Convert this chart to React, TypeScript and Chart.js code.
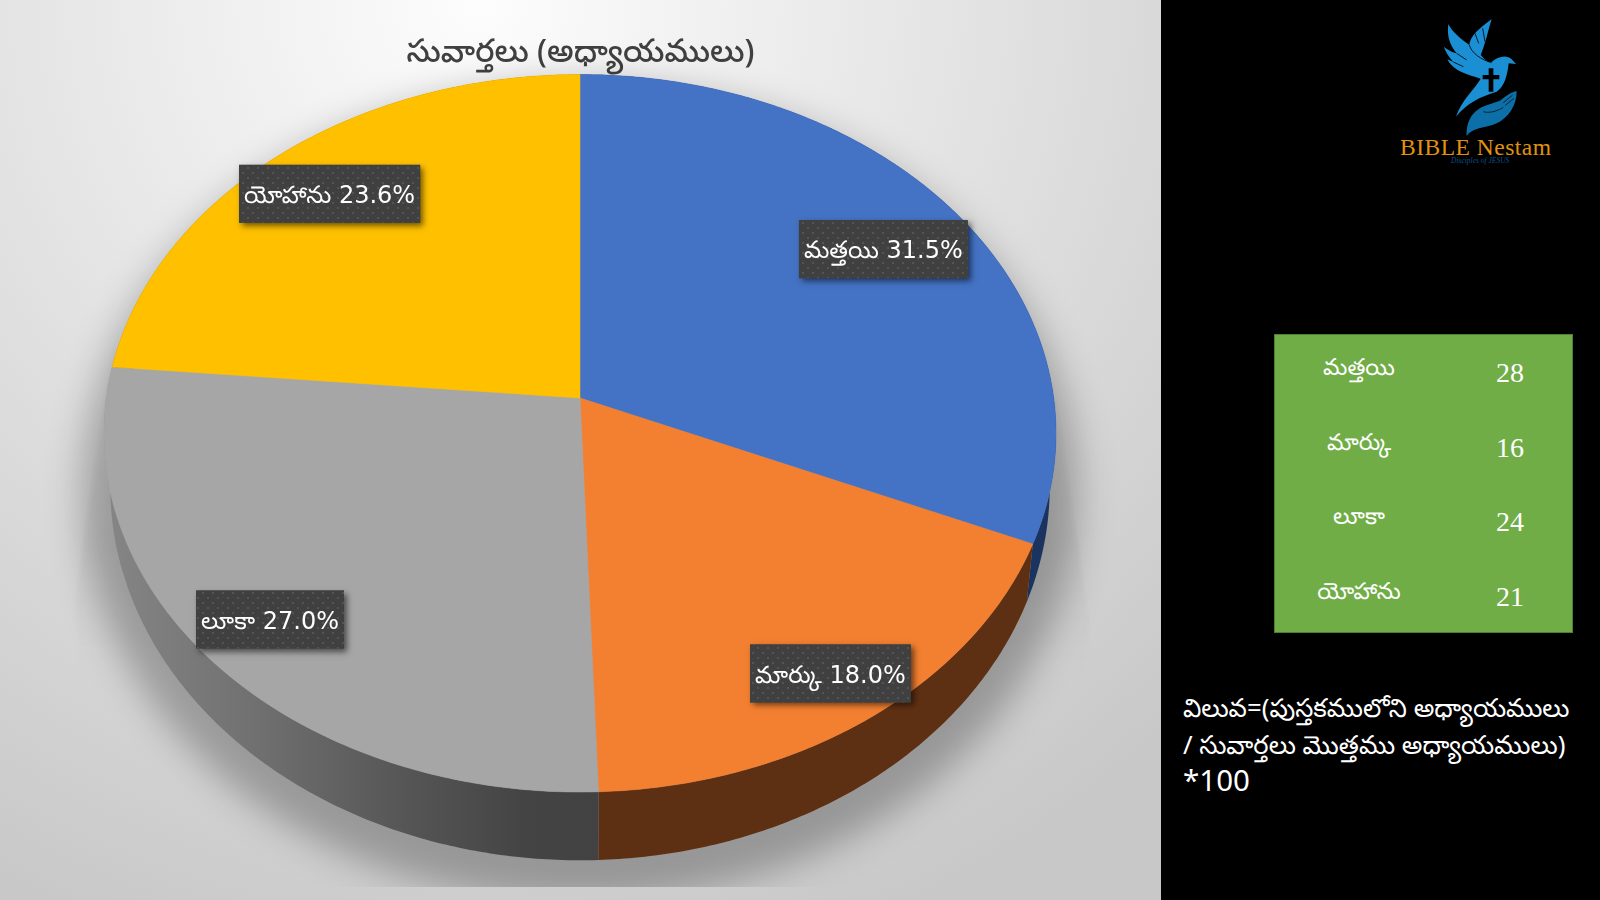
import React, { useEffect, useRef } from "react";
import { Chart, registerables } from "chart.js";

Chart.register(...registerables);

const categories = ["మత్తయి", "మార్కు", "లూకా", "యోహాను"];
const chapters = [28, 16, 24, 21];
const faceColors = ["#4472c4", "#f38031", "#a6a6a6", "#ffc000"];
const wallColors = ["#1a345f", "#5e3013", "#555555", "#806000"];
const labelRadii = [0.8, 0.87, 0.85, 0.83];
const titleText = "సువార్తలు (అధ్యాయములు)";
const noteLines = ["విలువ=(పుస్తకములోని అధ్యాయములు", "/ సువార్తలు మొత్తము అధ్యాయములు)", "*100"];
const logoName = "BIBLE Nestam";
const logoTag = "Disciples of JESUS";

const FONT = '"Noto Sans", "Noto Sans Telugu", sans-serif';
const LABEL_FONT = '"DejaVu Sans", "Noto Sans Telugu", sans-serif';
const PANEL = 1161;

// perspective model of the disc: screen = origin + (a*u, -b*v) / (1 + k*v)
const K = 0.0983;
const TOP = { cx: 580, cy: 398, a: 473.7, b: 355.3 };
const BASE = { cx: 580, cy: 449.5, a: 467.5, b: 370.4 };

type Disc = typeof TOP;
const project = (d: Disc, theta: number, r = 1) => {
  const u = Math.sin(theta) * r;
  const v = Math.cos(theta) * r;
  const w = 1 + K * v;
  return { x: d.cx + (d.a * u) / w, y: d.cy - (d.b * v) / w };
};

const arcPoints = (d: Disc, from: number, to: number) => {
  const n = Math.max(2, Math.ceil(Math.abs(to - from) / 0.01));
  const pts = [];
  for (let i = 0; i <= n; i++) pts.push(project(d, from + ((to - from) * i) / n));
  return pts;
};

const makeDots = (ctx: CanvasRenderingContext2D) => {
  const c = document.createElement("canvas");
  c.width = 10;
  c.height = 10;
  const g = c.getContext("2d")!;
  g.fillStyle = "#404040";
  g.fillRect(0, 0, 10, 10);
  g.fillStyle = "#545454";
  g.fillRect(2, 2, 2, 2);
  g.fillRect(7, 7, 2, 2);
  return ctx.createPattern(c, "repeat")!;
};

const pie3d = {
  id: "pie3d",
  beforeDatasetDraw(chart: any) {
    const ctx: CanvasRenderingContext2D = chart.ctx;
    const arcs = chart.getDatasetMeta(0).data;
    const total = chapters.reduce((s, v) => s + v, 0);
    ctx.save();

    // floor shadow
    ctx.save();
    ctx.beginPath();
    ctx.rect(0, 0, PANEL, 887);
    ctx.clip();
    ctx.filter = "blur(2px)";
    for (const side of [
      [[112, 345], [74, 605], [80, 680], [300, 680]],
      [[1056, 395], [1090, 625], [1082, 700], [860, 700]],
    ]) {
      const g = ctx.createLinearGradient(0, 345, 0, 680);
      g.addColorStop(0, "rgba(0,0,0,0.015)");
      g.addColorStop(0.6, "rgba(0,0,0,0.04)");
      g.addColorStop(1, "rgba(0,0,0,0)");
      ctx.fillStyle = g;
      ctx.beginPath();
      side.forEach(([x, y], i) => (i ? ctx.lineTo(x, y) : ctx.moveTo(x, y)));
      ctx.closePath();
      ctx.fill();
    }
    ctx.filter = "blur(18px)";
    ctx.fillStyle = "rgba(0,0,0,0.27)";
    ctx.beginPath();
    ctx.ellipse(580, 492, 498, 410, 0, 0, Math.PI * 2);
    ctx.fill();
    ctx.restore();

    // side walls
    arcs.forEach((arc: any, i: number) => {
      const from = arc.startAngle + Math.PI / 2;
      const to = arc.endAngle + Math.PI / 2;
      const top = arcPoints(TOP, from, to);
      const base = arcPoints(BASE, to, from);
      ctx.beginPath();
      [...top, ...base].forEach((p, j) => (j ? ctx.lineTo(p.x, p.y) : ctx.moveTo(p.x, p.y)));
      ctx.closePath();
      if (i === 2) {
        const g = ctx.createLinearGradient(110, 0, 598, 0);
        g.addColorStop(0, "#858585");
        g.addColorStop(0.3, "#707070");
        g.addColorStop(0.6, "#565656");
        g.addColorStop(0.85, "#444444");
        g.addColorStop(1, "#424242");
        ctx.fillStyle = g;
      } else {
        ctx.fillStyle = wallColors[i];
      }
      ctx.fill();
    });

    // top faces
    arcs.forEach((arc: any, i: number) => {
      const from = arc.startAngle + Math.PI / 2;
      const to = arc.endAngle + Math.PI / 2;
      ctx.beginPath();
      ctx.moveTo(TOP.cx, TOP.cy);
      arcPoints(TOP, from, to).forEach((p) => ctx.lineTo(p.x, p.y));
      ctx.closePath();
      ctx.fillStyle = faceColors[i];
      ctx.fill();
      ctx.strokeStyle = faceColors[i];
      ctx.lineWidth = 0.5;
      ctx.stroke();
    });

    // data labels
    const dots = makeDots(ctx);
    ctx.font = `24px ${LABEL_FONT}`;
    ctx.textAlign = "left";
    ctx.textBaseline = "middle";
    arcs.forEach((arc: any, i: number) => {
      const mid = (arc.startAngle + arc.endAngle) / 2 + Math.PI / 2;
      const c = project(TOP, mid, labelRadii[i]);
      const text = `${categories[i]} ${((chapters[i] / total) * 100).toFixed(1)}%`;
      const w = ctx.measureText(text).width + 10;
      const h = 58;
      ctx.save();
      ctx.shadowColor = "rgba(0,0,0,0.55)";
      ctx.shadowBlur = 6;
      ctx.shadowOffsetX = 3;
      ctx.shadowOffsetY = 3;
      ctx.fillStyle = "#404040";
      ctx.fillRect(c.x - w / 2, c.y - h / 2 + 1, w, h);
      ctx.restore();
      ctx.fillStyle = dots;
      ctx.fillRect(c.x - w / 2, c.y - h / 2 + 1, w, h);
      ctx.fillStyle = "#ffffff";
      ctx.fillText(text, c.x - w / 2 + 5, c.y + 4);
    });

    ctx.restore();
    return false;
  },
};

const Logo = () => (
  <svg
    viewBox="0 0 1080 600"
    width={360}
    height={200}
    style={{ position: "absolute", left: 1240 - PANEL, top: 0 }}
  >
    <path
      fill="#1a8fd3"
      d="M625 72 C635 95 665 118 688 135 C690 108 718 85 755 57 C745 90 735 135 722 165 C735 180 745 188 755 186 C772 170 800 162 815 178 L828 192 L806 190 C802 225 795 258 770 275 C720 290 680 310 648 350 C665 300 700 272 722 236 C690 226 640 215 622 178 L640 186 C625 168 615 152 612 140 C625 152 640 157 650 160 C630 135 620 110 625 72 Z"
    />
    <path
      fill="none"
      stroke="#000"
      strokeWidth="2.5"
      d="M688 135 C695 160 725 180 755 188 M716 130 L705 100 M735 125 L728 85 M650 160 L680 180 M640 186 L670 200"
    />
    <path fill="#000" d="M728 225 H746 V205 H760 V225 H778 V238 H760 V275 H746 V238 H728 Z" />
    <path
      fill="#0d6fa8"
      d="M680 408 C678 368 695 330 740 316 L780 302 C800 286 815 276 830 273 C830 320 802 355 770 370 C735 385 695 383 680 408 Z"
    />
    <path fill="none" stroke="#000" strokeWidth="2" d="M790 308 L818 285 M796 316 L822 295 M730 335 C745 340 770 335 790 322" />
  </svg>
);

export default function App() {
  const ref = useRef<HTMLCanvasElement>(null);

  useEffect(() => {
    const chart = new Chart(ref.current!, {
      type: "pie",
      data: {
        labels: categories,
        datasets: [{ data: chapters, backgroundColor: faceColors, borderWidth: 0 }],
      },
      options: {
        responsive: false,
        animation: false,
        layout: { padding: { top: 34 } },
        plugins: {
          legend: { display: false },
          tooltip: { enabled: false },
          title: {
            display: true,
            text: titleText,
            color: "#404040",
            font: { family: FONT, size: 32, weight: "500" },
            padding: { top: 0, bottom: 0 },
          },
        },
      } as any,
      plugins: [pie3d as any],
    });
    return () => chart.destroy();
  }, []);

  return (
    <div
      style={{
        position: "fixed",
        left: 0,
        top: 0,
        width: 1600,
        height: 900,
        background: "#000",
        overflow: "hidden",
      }}
    >
      <canvas
        ref={ref}
        width={PANEL}
        height={900}
        style={{
          position: "absolute",
          left: 0,
          top: 0,
          width: PANEL,
          height: 900,
          background: "radial-gradient(circle 1000px at 480px 0px, #fdfdfd, #c8c8c8)",
        }}
      />
      <div style={{ position: "absolute", left: PANEL, top: 0, width: 439, height: 900 }}>
        <Logo />
        <div
          style={{
            position: "absolute",
            left: 1400 - PANEL,
            top: 133,
            font: '23.5px "Liberation Serif", serif',
            letterSpacing: 0.5,
            color: "#e2920f",
            whiteSpace: "nowrap",
            lineHeight: "28px",
          }}
        >
          {logoName}
        </div>
        <div
          style={{
            position: "absolute",
            left: 1451 - PANEL,
            top: 156,
            font: 'italic 7.5px "Liberation Serif", serif',
            color: "#0d4f88",
            whiteSpace: "nowrap",
            lineHeight: "10px",
          }}
        >
          {logoTag}
        </div>
        <div
          style={{
            position: "absolute",
            left: 1274 - PANEL,
            top: 334,
            width: 299,
            height: 299,
            boxSizing: "border-box",
            background: "#70ad47",
            border: "1px solid #507e32",
          }}
        >
          {categories.map((c, i) => (
            <React.Fragment key={c}>
              <div
                style={{
                  position: "absolute",
                  left: 20,
                  width: 128,
                  top: 37 + i * 74.6 - 22,
                  lineHeight: "44px",
                  textAlign: "center",
                  color: "#fff",
                  font: `23px ${FONT}`,
                }}
              >
                {c}
              </div>
              <div
                style={{
                  position: "absolute",
                  left: 205,
                  width: 60,
                  top: 38 + i * 74.6 - 20,
                  lineHeight: "40px",
                  textAlign: "center",
                  color: "#fff",
                  fontFamily: '"Liberation Serif", serif',
                  fontSize: 28,
                }}
              >
                {chapters[i]}
              </div>
            </React.Fragment>
          ))}
        </div>
        {noteLines.map((t, i) => (
          <div
            key={t}
            style={{
              position: "absolute",
              left: 1183 - PANEL,
              top: [713, 750, 783][i] - 24,
              lineHeight: "48px",
              color: "#fff",
              font: `${i === 2 ? 29.5 : 25.8}px ${FONT}`,
              whiteSpace: "nowrap",
            }}
          >
            {t}
          </div>
        ))}
      </div>
    </div>
  );
}
